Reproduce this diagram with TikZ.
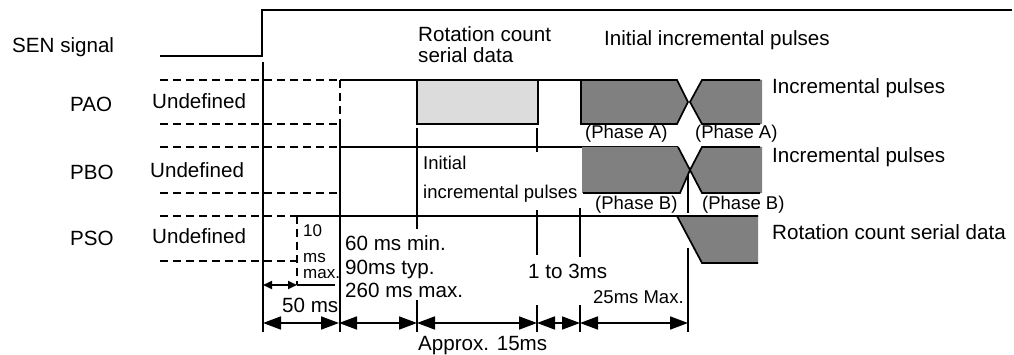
\documentclass[tikz,border=0pt]{standalone}
\usepackage{fontspec}
\setmainfont{Liberation Sans}
\usetikzlibrary{arrows.meta}
\definecolor{darkg}{HTML}{808080}
\definecolor{lightg}{HTML}{DCDCDC}
\begin{document}
\begin{tikzpicture}[x=1pt,y=-1pt,
  ln/.style={line width=1.7pt},
  dsh/.style={line width=1.7pt, dash pattern=on 8pt off 5pt},
  lbl/.style={anchor=base west, inner sep=0pt, font=\fontsize{20.6}{23}\selectfont},
  sml/.style={anchor=base west, inner sep=0pt, font=\fontsize{18.5}{21}\selectfont},
  tny/.style={anchor=base west, inner sep=0pt, font=\fontsize{17}{19}\selectfont},
  dim/.style={line width=1.7pt, {Triangle[length=18pt,width=13pt]}-{Triangle[length=18pt,width=13pt]}},
  smalldim/.style={line width=1.7pt, {Triangle[length=9pt,width=8pt]}-{Triangle[length=9pt,width=8pt]}}
]
\useasboundingbox (0,0) rectangle (1014,355);

% coordinates of the timing ticks
\coordinate (t0) at (263,323);
\coordinate (t1) at (339,323);
\coordinate (t2) at (417,323);
\coordinate (t3) at (537,323);
\coordinate (t4) at (580,323);
\coordinate (t5) at (688,323);
\coordinate (s0) at (263,285);
\coordinate (s1) at (297,285);

% SEN signal
\draw[ln] (160,56) -- (262,56) -- (262,10) -- (1012,10);

% undefined regions (dashed)
\draw[dsh] (160,80) -- (340,80);
\draw[dsh] (160,124) -- (340,124);
\draw[dsh] (160,147) -- (340,147);
\draw[dsh] (160,193) -- (340,193);
\draw[dsh] (160,216) -- (297,216);
\draw[dsh] (160,261) -- (297,261);
\draw[dsh] (340,80) -- (340,124);
\draw[dsh] (297,216) -- (297,285);

% signal lines
\draw[ln] (340,80) -- (677,80);
\draw[ln] (340,147) -- (678,147);
\draw[ln] (297,216) -- (758,216);

% vertical markers
\draw[ln] (263,62) -- (263,332);
\draw[ln] (340,124) -- (340,332);
\draw[ln] (297,285) -- (335,285);
\draw[ln] (417,128) -- (417,229);
\draw[ln] (417,300) -- (417,332);
\draw[ln] (537,128) -- (537,152);
\draw[ln] (537,210) -- (537,255);
\draw[ln] (537,305) -- (537,332);
\draw[ln] (580,208) -- (580,257);
\draw[ln] (580,305) -- (580,332);
\draw[ln] (688,170) -- (688,213);
\draw[ln] (688,248) -- (688,332);

% PAO serial data box
\draw[ln, fill=lightg] (417,80) rectangle (538,124);

% PAO incremental pulses
\draw[ln, fill=darkg, line join=miter] (581,80) -- (677,80) -- (688,102) -- (677,124) -- (581,124) -- cycle;
\fill[darkg] (690,102) -- (702,80) -- (762,80) -- (762,124) -- (702,124) -- cycle;
\draw[ln] (760,80) -- (702,80) -- (690,102) -- (702,124) -- (760,124);

% PBO incremental pulses
\fill[darkg] (582,147) -- (678,147) -- (690,170) -- (680,193) -- (582,193) -- cycle;
\draw[ln] (678,147) -- (690,170) -- (680,193) -- (583,193);
\fill[darkg] (690,170) -- (702,147) -- (762,147) -- (762,193) -- (702,193) -- cycle;
\draw[ln] (760,147) -- (702,147) -- (690,170) -- (702,193) -- (760,193);

% PSO rotation count serial data
\fill[darkg] (677,216) -- (758,216) -- (758,263) -- (702,263) -- cycle;
\draw[ln] (758,216) -- (677,216) -- (702,263) -- (758,263);

% dimension arrows
\draw[dim] (t0) -- (t1);
\draw[dim] (t1) -- (t2);
\draw[dim] (t2) -- (t3);
\draw[dim] (t3) -- (t4);
\draw[dim] (t4) -- (t5);
\draw[smalldim] (s0) -- (s1);

% labels
\node[lbl] (sen) at (12,53) {SEN signal};
\node[lbl] (pao) at (70,112) {PAO};
\node[lbl] (pbo) at (70,180) {PBO};
\node[lbl] (pso) at (70,246) {PSO};
\node[lbl] (ua) at (152,109) {Undefined};
\node[lbl] (ub) at (150,178) {Undefined};
\node[lbl] (uc) at (152,244) {Undefined};
\node[lbl] (rc1) at (418,42) {Rotation count};
\node[lbl] (rc2) at (418,63) {serial data};
\node[lbl] (iip) at (604,46) {Initial incremental pulses};
\node[lbl] (ipa) at (772,94) {Incremental pulses};
\node[lbl] (ipb) at (772,163) {Incremental pulses};
\node[lbl] (rcs) at (772,240) {Rotation count serial data};
\node[sml] (pa1) at (585,139) {(Phase A)};
\node[sml] (pa2) at (695,139) {(Phase A)};
\node[sml] (pb1) at (595,210) {(Phase B)};
\node[sml] (pb2) at (702,210) {(Phase B)};
\node[sml] (ini) at (423,170) {Initial};
\node[sml] (inc) at (423,199) {incremental pulses};
\node[tny] (ten) at (303,237) {10};
\node[tny] (tms) at (303,262) {ms};
\node[tny] (tmx) at (303,278) {max.};
\node[lbl] (d60) at (345,251) {60 ms min.};
\node[lbl] (d90) at (345,274) {90ms typ.};
\node[lbl] (d260) at (345,297) {260 ms max.};
\node[lbl] (d50) at (282,312) {50 ms};
\node[lbl] (d13) at (528,278) {1 to 3ms};
\node[sml] (d25) at (593,303) {25ms Max.};
\node[lbl] (d15) at (418,350) {Approx. 15ms};
\end{tikzpicture}
\end{document}
